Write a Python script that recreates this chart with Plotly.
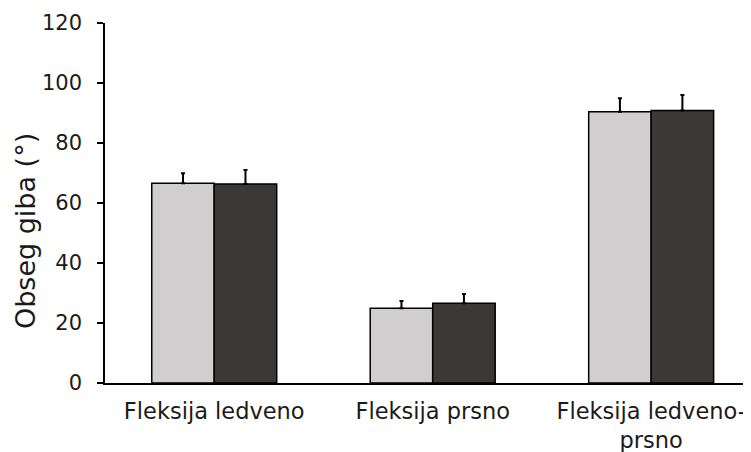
import plotly.graph_objects as go

categories = ["Fleksija ledveno", "Fleksija prsno", "Fleksija ledveno-<br>prsno"]
series1_values = [66.6, 24.9, 90.4]
series1_err = [3.3, 2.4, 4.5]
series2_values = [66.3, 26.6, 90.8]
series2_err = [4.7, 3.1, 5.2]
y_ticks = [0, 20, 40, 60, 80, 100, 120]
y_title = "Obseg giba (°)"

fig = go.Figure()
fig.add_trace(go.Bar(
    x=[0, 1, 2], y=series1_values,
    marker=dict(color="#d0cecf", line=dict(color="#000000", width=1.5)),
    error_y=dict(type="data", array=series1_err, symmetric=False, arrayminus=[0, 0, 0],
                 color="#000000", thickness=2, width=2),
    showlegend=False,
))
fig.add_trace(go.Bar(
    x=[0, 1, 2], y=series2_values,
    marker=dict(color="#3a3938", line=dict(color="#000000", width=1.5)),
    error_y=dict(type="data", array=series2_err, symmetric=False, arrayminus=[0, 0, 0],
                 color="#000000", thickness=2, width=2),
    showlegend=False,
))

fig.add_annotation(
    text=y_title, textangle=-90, showarrow=False,
    xref="paper", yref="paper", x=0, y=0.422, xanchor="center", yanchor="middle",
    xshift=-80, font=dict(size=27, color="#1a1a1a"),
)

fig.update_layout(
    width=743, height=444,
    margin=dict(l=97, r=0, t=15, b=69),
    barmode="group", bargap=0.428, bargroupgap=0,
    plot_bgcolor="white", paper_bgcolor="white",
    font=dict(family="DejaVu Sans, Verdana, sans-serif", size=21, color="#1a1a1a"),
    xaxis=dict(
        tickmode="array", tickvals=[0, 1, 2], ticktext=categories,
        range=[-0.5, 2.457], showgrid=False, zeroline=False,
        showline=True, linecolor="#000000", linewidth=1.5, ticks="",
        tickfont=dict(size=22.5), ticklabelstandoff=7,
    ),
    yaxis=dict(
        range=[0, 120], tickvals=y_ticks, showgrid=False, zeroline=False,
        showline=True, linecolor="#000000", linewidth=1.5,
        ticks="outside", ticklen=6, tickwidth=1.5, tickcolor="#000000",
        ticklabelstandoff=11,
        tickfont=dict(size=21),
    ),
)

fig.write_html("out.html")
